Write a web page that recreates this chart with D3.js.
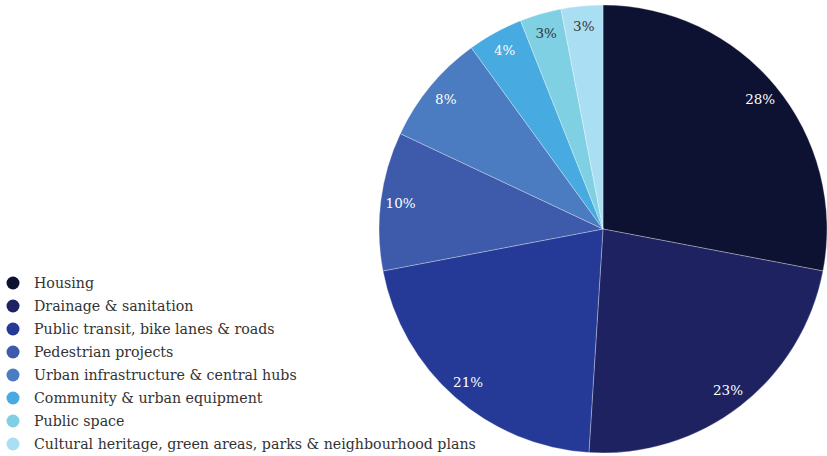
<!DOCTYPE html>
<html><head><meta charset="utf-8">
<script src="https://cdn.jsdelivr.net/npm/d3@7"></script>
<style>html,body{margin:0;padding:0;background:#fff;}svg{display:block;}</style>
</head><body>
<svg id="c" width="827" height="456"></svg>
<script>
const categories = ["Housing","Drainage & sanitation","Public transit, bike lanes & roads","Pedestrian projects","Urban infrastructure & central hubs","Community & urban equipment","Public space","Cultural heritage, green areas, parks & neighbourhood plans"];
const values = [28,23,21,10,8,4,3,3];
const colors = ["#0e1232","#1f2260","#253a96","#3d5aab","#4b7bc0","#47aae0","#80d0e4","#aadff3"];
const labelColors = ["#fff","#fff","#fff","#fff","#fff","#fff","#333","#333"];

const svg = d3.select("#c");
const FONT = "DejaVu Serif";
const cx = 603, cy = 229, R = 224;
const pie = d3.pie().sort(null).value(d => d)(values);
const arc = d3.arc().innerRadius(0).outerRadius(R);
const labelArc = d3.arc().innerRadius(204).outerRadius(204);
const g = svg.append("g").attr("transform", `translate(${cx},${cy})`);
g.selectAll("path").data(pie).join("path")
  .attr("d", arc).attr("fill", (d,i) => colors[i])
  .attr("stroke", "#ffffff").attr("stroke-opacity", 0.5).attr("stroke-width", 0.6);
g.selectAll("text").data(pie).join("text")
  .attr("transform", d => `translate(${labelArc.centroid(d)})`)
  .attr("text-anchor", "middle").attr("dy", "0.35em")
  .attr("font-family", FONT).attr("font-size", 13.5)
  .attr("fill", (d,i) => labelColors[i])
  .text(d => d.data + "%");

const y = d3.scalePoint().domain(categories).range([283, 444]);
const leg = svg.append("g");
const items = leg.selectAll("g").data(categories).join("g")
  .attr("transform", d => `translate(0,${y(d)})`);
items.append("circle").attr("cx", 13).attr("cy", 0).attr("r", 6.5)
  .attr("fill", (d,i) => colors[i]);
items.append("text").attr("x", 34).attr("dy", "0.35em")
  .attr("font-family", FONT).attr("font-size", 14.2).attr("fill", "#333")
  .text(d => d);
</script>
</body></html>
